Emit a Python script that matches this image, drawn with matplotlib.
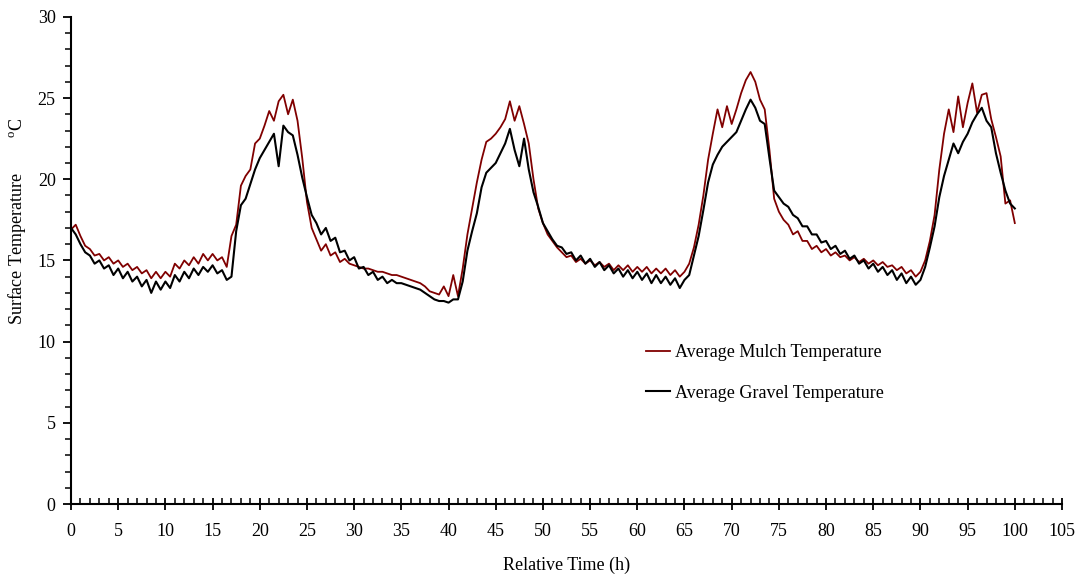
import numpy as np
import matplotlib
matplotlib.use("Agg")
import matplotlib.pyplot as plt
from matplotlib.ticker import MultipleLocator

plt.rcParams['font.family'] = ['Liberation Serif', 'DejaVu Serif']
plt.rcParams['mathtext.fontset'] = 'custom'
plt.rcParams['mathtext.rm'] = 'Liberation Serif'

# relative time (h), read every half hour
time_h = np.arange(0, 100.01, 0.5)

mulch = [
    16.9, 17.2, 16.5, 15.9, 15.7, 15.3, 15.4, 15.0, 15.2, 14.8,
    15.0, 14.6, 14.8, 14.4, 14.6, 14.2, 14.4, 13.9, 14.3, 13.9,
    14.3, 14.0, 14.8, 14.5, 15.0, 14.7, 15.2, 14.8, 15.4, 15.0,
    15.4, 15.0, 15.2, 14.6, 16.5, 17.2, 19.6, 20.2, 20.6, 22.2,
    22.5, 23.3, 24.2, 23.6, 24.8, 25.2, 24.0, 24.9, 23.6, 21.3,
    18.6, 17.0, 16.3, 15.6, 16.0, 15.3, 15.5, 14.9, 15.1, 14.8,
    14.7, 14.6, 14.5, 14.5, 14.4, 14.3, 14.3, 14.2, 14.1, 14.1,
    14.0, 13.9, 13.8, 13.7, 13.6, 13.4, 13.1, 13.0, 12.9, 13.4,
    12.8, 14.1, 12.8, 14.5, 16.6, 18.2, 19.8, 21.2, 22.3, 22.5,
    22.8, 23.2, 23.7, 24.8, 23.6, 24.5, 23.4, 22.2, 20.0, 18.2,
    17.3, 16.6, 16.2, 15.8, 15.5, 15.2, 15.3, 14.9, 15.1, 14.8,
    15.0, 14.7, 14.9, 14.6, 14.8, 14.4, 14.7, 14.4, 14.7, 14.3,
    14.6, 14.3, 14.6, 14.2, 14.5, 14.2, 14.5, 14.1, 14.4, 14.0,
    14.3, 14.8, 15.8, 17.2, 19.0, 21.2, 22.8, 24.3, 23.2, 24.5,
    23.4, 24.3, 25.3, 26.1, 26.6, 26.0, 24.9, 24.3, 21.8, 18.8,
    18.0, 17.5, 17.2, 16.6, 16.8, 16.2, 16.2, 15.7, 15.9, 15.5,
    15.7, 15.3, 15.5, 15.2, 15.3, 15.0, 15.2, 14.9, 15.1, 14.8,
    15.0, 14.7, 14.9, 14.6, 14.7, 14.4, 14.6, 14.2, 14.4, 14.0,
    14.3, 15.0, 16.2, 17.8, 20.6, 22.8, 24.3, 22.9, 25.1, 23.2,
    24.7, 25.9, 24.1, 25.2, 25.3, 23.7, 22.6, 21.4, 18.5, 18.7,
    17.3,
]

gravel = [
    17.0, 16.6, 16.0, 15.5, 15.3, 14.8, 15.0, 14.5, 14.7, 14.1,
    14.5, 13.9, 14.3, 13.7, 14.0, 13.4, 13.8, 13.0, 13.7, 13.2,
    13.7, 13.3, 14.1, 13.7, 14.3, 13.9, 14.5, 14.1, 14.6, 14.3,
    14.7, 14.2, 14.4, 13.8, 14.0, 16.8, 18.4, 18.8, 19.7, 20.6,
    21.3, 21.8, 22.3, 22.8, 20.8, 23.3, 22.9, 22.7, 21.5, 20.1,
    18.9, 17.8, 17.3, 16.6, 17.0, 16.2, 16.4, 15.5, 15.6, 15.0,
    15.2, 14.5, 14.6, 14.1, 14.3, 13.8, 14.0, 13.6, 13.8, 13.6,
    13.6, 13.5, 13.4, 13.3, 13.2, 13.0, 12.8, 12.6, 12.5, 12.5,
    12.4, 12.6, 12.6, 13.7, 15.6, 16.8, 17.9, 19.5, 20.4, 20.7,
    21.0, 21.6, 22.2, 23.1, 21.8, 20.8, 22.5, 20.6, 19.2, 18.3,
    17.3, 16.8, 16.3, 15.9, 15.8, 15.4, 15.5, 15.0, 15.3, 14.8,
    15.1, 14.6, 14.9, 14.4, 14.7, 14.2, 14.5, 14.0, 14.4, 13.9,
    14.3, 13.8, 14.2, 13.6, 14.1, 13.6, 14.0, 13.5, 13.9, 13.3,
    13.8, 14.1, 15.3, 16.5, 18.1, 19.8, 20.9, 21.5, 22.0, 22.3,
    22.6, 22.9, 23.6, 24.3, 24.9, 24.4, 23.6, 23.4, 21.3, 19.3,
    18.9, 18.5, 18.3, 17.8, 17.6, 17.1, 17.1, 16.6, 16.6, 16.1,
    16.2, 15.7, 15.9, 15.4, 15.6, 15.1, 15.3, 14.8, 15.0, 14.5,
    14.8, 14.3, 14.6, 14.1, 14.4, 13.8, 14.2, 13.6, 14.0, 13.5,
    13.8, 14.6, 15.8, 17.1, 18.9, 20.2, 21.2, 22.2, 21.6, 22.3,
    22.8, 23.5, 24.0, 24.4, 23.6, 23.2, 21.6, 20.4, 19.3, 18.5,
    18.2,
]

fig = plt.figure(figsize=(10.76, 5.8), dpi=100)
ax = fig.add_axes([0.066, 0.131, 0.921, 0.840])

ax.plot(time_h, mulch, color="#800000", lw=1.3, label="Average Mulch Temperature")
ax.plot(time_h, gravel, color="black", lw=1.5, label="Average Gravel Temperature")

ax.set_xlim(0, 105)
ax.set_ylim(0, 30)
ax.xaxis.set_major_locator(MultipleLocator(5))
ax.xaxis.set_minor_locator(MultipleLocator(1))
ax.yaxis.set_major_locator(MultipleLocator(5))
ax.yaxis.set_minor_locator(MultipleLocator(1))

ax.spines['right'].set_visible(False)
ax.spines['top'].set_visible(False)
ax.spines['left'].set_linewidth(1.5)
ax.spines['bottom'].set_linewidth(1.5)
ax.tick_params(axis="x", which="major", direction="inout", length=9, width=1.3, labelsize=13, pad=9)
ax.tick_params(axis="x", which="minor", direction="in", length=4, width=1.1)
ax.tick_params(axis="y", which="major", direction="out", length=6, width=1.3, labelsize=13, pad=5)
ax.tick_params(axis="y", which="minor", direction="out", length=4, width=1.1)

ax.set_xlabel("Relative Time (h)", fontsize=13, labelpad=12)
ax.set_ylabel("Surface Temperature        $^{\\rm o}$C", fontsize=13)
ax.yaxis.set_label_coords(-0.043, 0.58)

ax.legend(loc="center left", bbox_to_anchor=(0.564, 0.269), frameon=False,
          fontsize=13, labelspacing=1.3, handlelength=1.3, handletextpad=0.3)

fig.savefig("out.png", dpi=100)
